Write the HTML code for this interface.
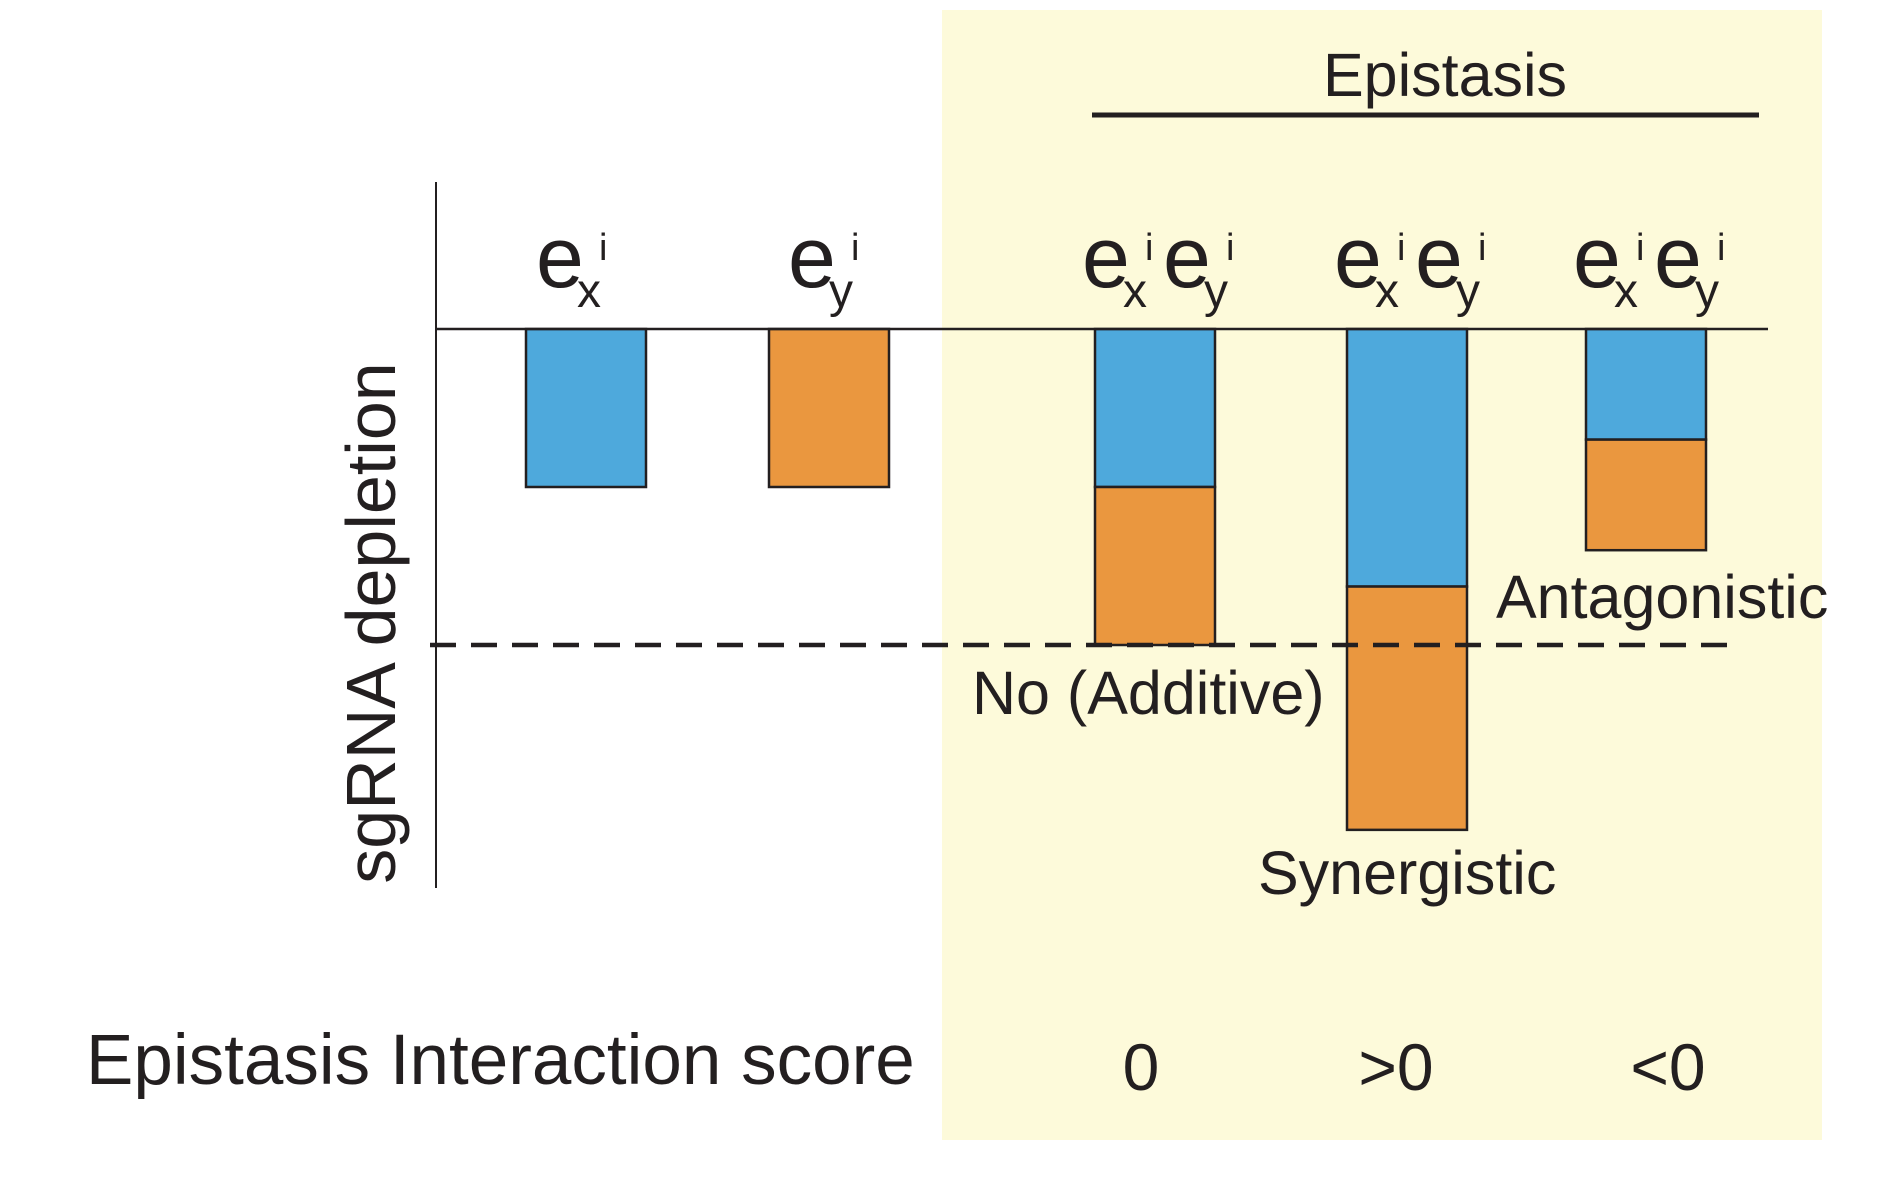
<!DOCTYPE html>
<html><head><meta charset="utf-8"><style>
html,body{margin:0;padding:0;background:#fff;}
svg{display:block;font-family:"Liberation Sans",sans-serif;}
</style></head><body>
<svg id="chart" width="1881" height="1178" viewBox="0 0 1881 1178">
<rect x="942" y="10" width="880" height="1130" fill="#FDFADA"/>
<text x="1445" y="96" font-size="61" text-anchor="middle" fill="#231F20">Epistasis</text>
<line x1="1092" y1="115" x2="1759" y2="115" stroke="#231F20" stroke-width="5"/>
<line x1="436" y1="182" x2="436" y2="888" stroke="#231F20" stroke-width="2"/>
<g id="bars"></g>
<line x1="436" y1="329" x2="1768" y2="329" stroke="#231F20" stroke-width="2.5"/>
<line id="dash" x1="430" x2="1740" stroke="#231F20" stroke-width="4.5" stroke-dasharray="26,15"/>
<g id="labels" fill="#231F20"></g>
<text x="395" y="623" font-size="70" text-anchor="middle" transform="rotate(-90 395 623)" fill="#231F20">sgRNA depletion</text>
<text x="972" y="714" font-size="61" fill="#231F20">No (Additive)</text>
<text x="1496" y="618" font-size="61" fill="#231F20">Antagonistic</text>
<text x="1258" y="894" font-size="61" fill="#231F20">Synergistic</text>
<text x="86" y="1084" font-size="71" fill="#231F20">Epistasis Interaction score</text>
<g id="scores" fill="#231F20"></g>
</svg>
<script>
const categories = ["ex", "ey", "additive", "synergistic", "antagonistic"];
const blueValues = [1.0, 0, 1.0, 1.63, 0.70];
const orangeValues = [0, 1.0, 1.0, 1.54, 0.70];
const additiveLevel = 2.0;
const scoreLabels = ["", "", "0", ">0", "<0"];

const NS = "http://www.w3.org/2000/svg";
const barX = [526, 769, 1095, 1347, 1586];
const scoreX = [0, 0, 1141, 1396, 1668];
const barW = 120, y0 = 329, unit = 158;
function yScale(v){ return y0 + v*unit; }

const barsG = document.getElementById('bars');
categories.forEach((c,i)=>{
  const b = blueValues[i], o = orangeValues[i];
  if (b > 0) {
    const r = document.createElementNS(NS,'rect');
    r.setAttribute('x', barX[i]); r.setAttribute('y', yScale(0));
    r.setAttribute('width', barW); r.setAttribute('height', yScale(b)-yScale(0));
    r.setAttribute('fill','#4EA9DC'); r.setAttribute('stroke','#231F20'); r.setAttribute('stroke-width','2.5');
    
    
    barsG.appendChild(r);
  }
  if (o > 0) {
    const r = document.createElementNS(NS,'rect');
    r.setAttribute('x', barX[i]); r.setAttribute('y', yScale(b));
    r.setAttribute('width', barW); r.setAttribute('height', yScale(b+o)-yScale(b));
    r.setAttribute('fill','#EA973F'); r.setAttribute('stroke','#231F20'); r.setAttribute('stroke-width','2.5');
    
    
    barsG.appendChild(r);
  }
});
const dash = document.getElementById('dash');
dash.setAttribute('y1', yScale(additiveLevel)); dash.setAttribute('y2', yScale(additiveLevel));

function txt(g, x, y, s, fs){
  const t = document.createElementNS(NS,'text');
  t.setAttribute('x', x); t.setAttribute('y', y); t.setAttribute('font-size', fs);
  t.textContent = s; g.appendChild(t); return t;
}
const labG = document.getElementById('labels');
function label(g, sx, sub){
  txt(g, sx, 287, 'e', 86);
  txt(g, sx+41, 307, sub, 48);
  txt(g, sx+63, 260, 'i', 38);
}
categories.forEach((c,i)=>{
  const g = document.createElementNS(NS,'g');
  
  
  labG.appendChild(g);
  if (i === 0) label(g, barX[i]+10, 'x');
  else if (i === 1) label(g, barX[i]+19, 'y');
  else { label(g, barX[i]-13, 'x'); label(g, barX[i]+68, 'y'); }
});
const scG = document.getElementById('scores');
scoreLabels.forEach((s,i)=>{
  if (!s) return;
  const t = txt(scG, scoreX[i], 1090, s, 66);
  t.setAttribute('text-anchor','middle');
  
  
});
</script>
</body></html>
